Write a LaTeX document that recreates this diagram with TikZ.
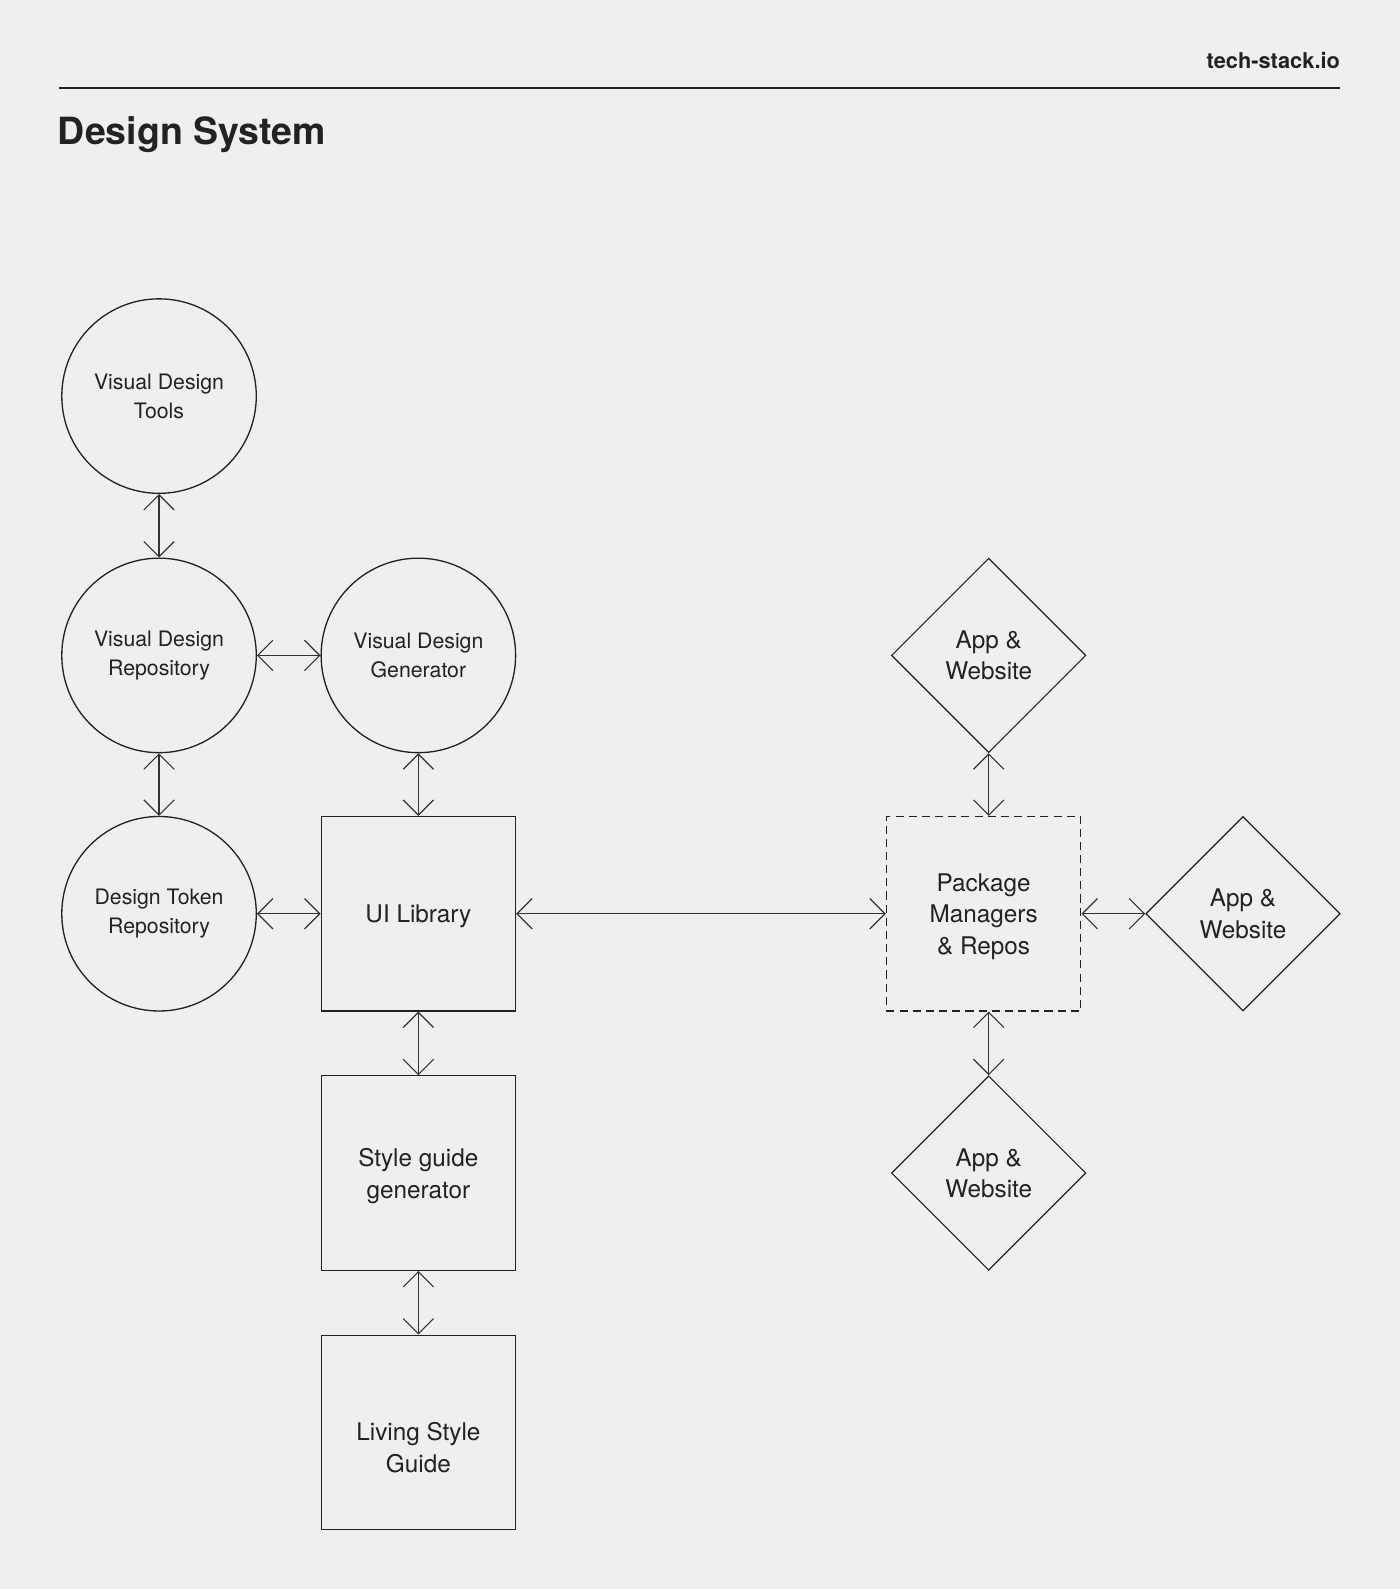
\documentclass[tikz,border=0pt]{standalone}
\usepackage{fontspec}
\setmainfont{TeX Gyre Heros}
\usetikzlibrary{shapes.geometric,arrows.meta}
\definecolor{bg}{HTML}{EFEFEF}
\definecolor{ink}{HTML}{222222}
\definecolor{wire}{HTML}{333333}
\begin{document}
\begin{tikzpicture}[x=1pt,y=-1pt,
  every node/.style={text=ink},
  circ/.style={circle,draw=ink,line width=1.3pt,minimum size=192pt,inner sep=0pt,align=center,font=\fontsize{21}{28.5}\selectfont},
  sq/.style={rectangle,draw=ink,line width=1.2pt,minimum size=192pt,inner sep=0pt,align=center,font=\fontsize{24}{31}\selectfont},
  sqtext/.style={inner sep=0pt,align=center,font=\fontsize{24}{31}\selectfont},
  dia/.style={diamond,draw=ink,line width=1.2pt,minimum width=192pt,minimum height=192pt,inner sep=0pt,align=center,font=\fontsize{24}{31}\selectfont},
  link/.style={draw=wire,line width=1.1pt,{Straight Barb[length=15pt,width=30pt]}-{Straight Barb[length=15pt,width=30pt]}}
]
\path[fill=bg] (0,0) rectangle (1382,1568.6);
\useasboundingbox (0,0) rectangle (1382,1568.6);

% header
\node[anchor=base east,inner sep=0pt,font=\bfseries\fontsize{21.5}{26}\selectfont] (site) at (1323,68) {tech-stack.io};
\coordinate (rl) at (58,87);
\coordinate (rr) at (1323,87);
\draw[ink,line width=2pt] (rl) -- (rr);
\node[anchor=base west,inner sep=0pt,font=\bfseries\fontsize{37}{44}\selectfont] (title) at (57,143) {Design System};

% circles
\node[circ] (vdt) at (157,391) {Visual Design\\Tools};
\node[circ] (vdr) at (157,647) {Visual Design\\Repository};
\node[circ] (vdg) at (413,647) {Visual Design\\Generator};
\node[circ] (dtr) at (157,902) {Design Token\\Repository};

% squares
\node[sq] (ui) at (413,902) {};
\node[sqtext] (uit) at ([yshift=-3pt]ui.center) {UI Library};
\node[sq] (sg) at (413,1158) {};
\node[sqtext] (sgt) at ([yshift=-3pt]sg.center) {Style guide\\generator};
\node[sq] (lsg) at (413,1414) {};
\node[sqtext] (lsgt) at ([yshift=-15pt]lsg.center) {Living Style\\Guide};
\node[sq,dash pattern=on 8pt off 5pt] (pkg) at (971,902) {};
\node[sqtext] (pkgt) at ([yshift=-3pt]pkg.center) {Package\\Managers\\\& Repos};

% diamonds
\node[dia] (appt) at (976,647) {App \&\\Website};
\node[dia] (appr) at (1227,902) {App \&\\Website};
\node[dia] (appb) at (976,1158) {App \&\\Website};

% connectors
\draw[link] (vdt.south) -- (vdr.north);
\draw[link] (vdr.east) -- (vdg.west);
\draw[link] (vdr.south) -- (dtr.north);
\draw[link] (vdg.south) -- (ui.north);
\draw[link] (dtr.east) -- (ui.west);
\draw[link] (ui.east) -- (pkg.west);
\draw[link] (ui.south) -- (sg.north);
\draw[link] (sg.south) -- (lsg.north);
\draw[link] (appt.south) -- (appt.south |- pkg.north);
\draw[link] (pkg.east) -- (appr.west);
\draw[link] (appb.north |- pkg.south) -- (appb.north);
\end{tikzpicture}
\end{document}
